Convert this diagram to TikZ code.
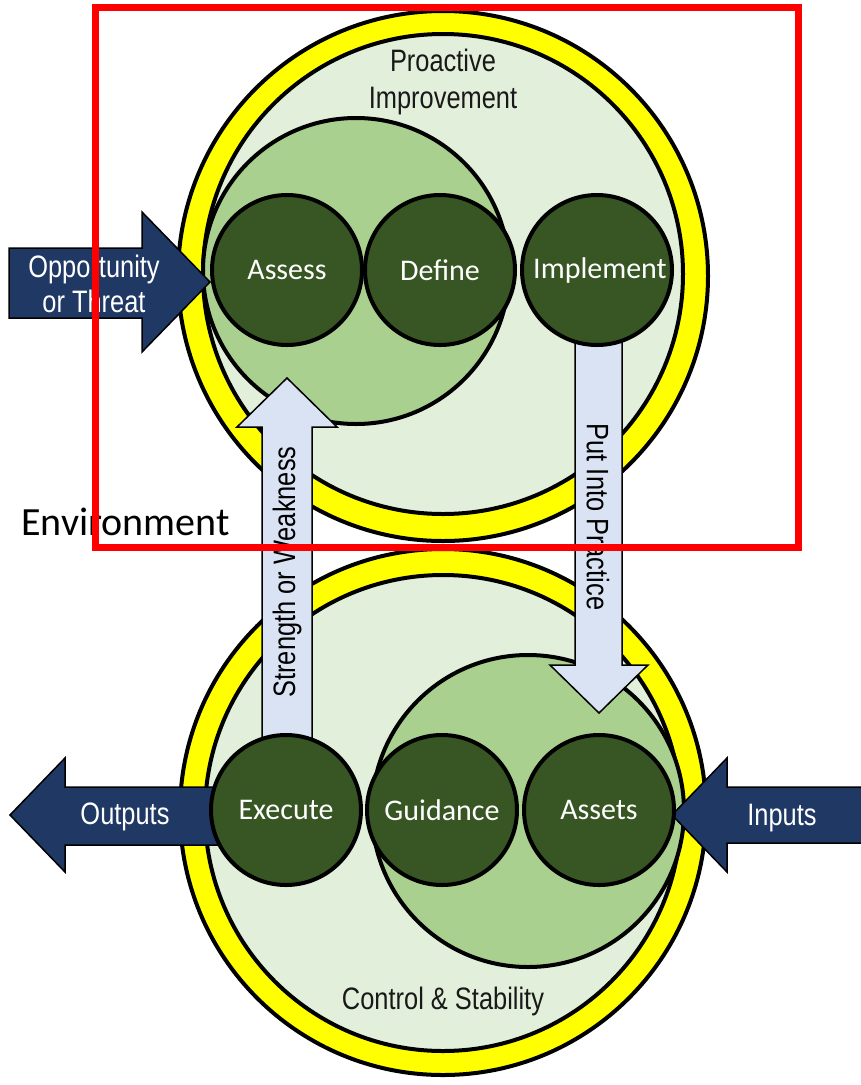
\documentclass[tikz,border=0pt]{standalone}
\usepackage{fontspec}
\setmainfont{Carlito}
\newfontfamily\narrowsans[FakeStretch=0.82]{Liberation Sans}
\definecolor{ringyellow}{HTML}{FFFF00}
\definecolor{fieldgreen}{HTML}{E2EFDA}
\definecolor{zonegreen}{HTML}{A9D08E}
\definecolor{stagegreen}{HTML}{375623}
\definecolor{navyblue}{HTML}{203864}
\definecolor{paleblue}{HTML}{DAE3F3}
\definecolor{framered}{HTML}{FF0000}
\begin{document}
\begin{tikzpicture}[x=1pt,y=-1pt,
  ring/.style={circle, draw=black, line width=4pt, fill=ringyellow, inner sep=0pt, minimum size=#1},
  field/.style={circle, draw=black, line width=4pt, fill=fieldgreen, inner sep=0pt, minimum size=#1},
  zone/.style={circle, draw=black, line width=4pt, fill=zonegreen, inner sep=0pt, minimum size=#1},
  stage/.style={circle, draw=black, line width=4pt, fill=stagegreen, inner sep=0pt, minimum size=150pt,
                text=white, font=\fontsize{30}{36}\selectfont},
  blockarrow/.style={draw=black, line width=1.5pt, fill=navyblue, line join=miter},
  flowarrow/.style={draw=black, line width=1.5pt, fill=paleblue, line join=miter},
  narrowlabel/.style={font=\narrowsans\fontsize{31}{36}\selectfont, align=center, inner sep=0pt},
]
\useasboundingbox (0,0) rectangle (861,1085);
\fill[white] (0,0) rectangle (861,1085);

% the two loops: yellow rings with pale green fields
\node[ring=530] (topring) at (443,276) {};
\node[field=480] (topfield) at (443,274) {};
\node[ring=526] (botring) at (443,812) {};
\node[field=476] (botfield) at (443,813) {};

% inner zones
\node[zone=306] (topzone) at (356,271) {};
\node[zone=312] (botzone) at (528,811) {};

% flow between the loops
\draw[flowarrow] (262,760) -- (262,427) -- (237,427) -- (287,378) -- (337,427)
  -- (312,427) -- (312,760) -- cycle;
\draw[flowarrow] (575,320) -- (575,665) -- (550,665) -- (599,713) -- (648,665)
  -- (622,665) -- (622,320) -- cycle;
\node[narrowlabel, rotate=90] (sw) at (287,572) {Strength or Weakness};
\node[narrowlabel, rotate=-90] (pip) at (598,517) {Put Into Practice};

% exchanges with the environment
\draw[blockarrow] (9,248) -- (142,248) -- (142,212) -- (210,282) -- (142,352)
  -- (142,318) -- (9,318) -- cycle;
\draw[blockarrow] (10,815) -- (65,758) -- (65,787) -- (230,787) -- (230,845)
  -- (65,845) -- (65,872) -- cycle;
\fill[navyblue] (672,815) -- (727,758) -- (727,787) -- (861,787) -- (861,843)
  -- (727,843) -- (727,872) -- cycle;
\draw[black, line width=1.5pt, line join=miter] (861,787) -- (727,787) -- (727,758)
  -- (672,815) -- (727,872) -- (727,843) -- (861,843);

% stages
\node[stage] (assess) at (287,270) {Assess};
\node[stage] (define) at (440,270) {Define};
\node[stage] (implement) at (597,270) {\hspace{6pt}Implement};
\node[stage] (execute) at (286,810) {Execute};
\node[stage] (guidance) at (442,810) {Guidance};
\node[stage] (assets) at (599,810) {Assets};

% labels
\node[narrowlabel, text=white] (opp) at (94,284) {Opportunity\\[-1pt]or Threat};
\node[narrowlabel, text=white] (outputs) at (125,817) {Outputs};
\node[narrowlabel, text=white] (inputs) at (782,818) {Inputs};
\node[narrowlabel, text=black!90] (proactive) at (443,82) {Proactive\\[1pt]Improvement};
\node[narrowlabel, text=black!90] (control) at (443,1001) {Control \& Stability};
\node[inner sep=0pt, anchor=base west, font=\fontsize{40}{46}\selectfont] (environment)
  at (21,535) {Environment};

% highlight frame
\draw[framered, line width=7pt] (95,7) rectangle (798,547);
\end{tikzpicture}
\end{document}
